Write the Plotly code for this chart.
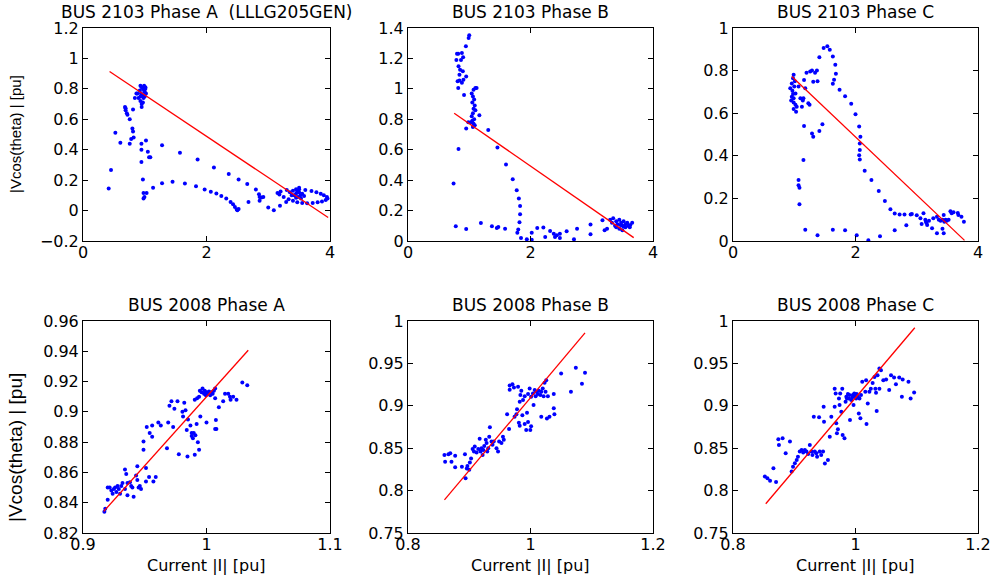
import plotly.graph_objects as go

# ---------------- data ----------------
# Top-left: BUS 2103 Phase A
a1_x = [0.416,0.454,0.524,0.605,0.69,0.69,0.71,0.757,0.8,0.81,0.82,0.78,0.757,0.84,0.865,0.81,0.68,0.72,
        0.93,0.95,0.97,0.92,0.99,1.0,0.94,0.96,1.01,1.02,0.98,0.93,0.95,0.97,0.90,0.88,1.0,0.95,0.93,0.99,1.01,
        0.946,0.946,0.946,0.97,0.98,0.98,0.995,1.03,1.02,1.05,1.07,1.09,1.135,1.28,1.28,1.45,1.57,1.65,1.83,
        1.856,1.97,2.07,2.12,2.16,2.24,2.32,2.36,2.39,2.43,2.46,2.49,2.5,2.52,2.52,2.66,2.68,2.8,2.85,2.86,
        2.86,2.89,2.92,3.0,3.09,3.19,3.29,
        3.2,3.3,3.45,3.6,3.7,3.78,3.85,3.9,3.95,3.96,3.93,3.87,3.8,3.72,3.63,3.55,3.47,3.4,3.33,3.25,3.18,3.15,
        3.35,3.4,3.42,3.45,3.48,3.5,3.5,3.52,3.55,3.38,3.45,3.53,3.58,3.47,3.5]
a1_y = [0.145,0.266,0.512,0.446,0.672,0.66,0.64,0.6,0.54,0.52,0.48,0.47,0.44,0.74,0.77,0.665,0.68,0.63,
        0.82,0.81,0.80,0.79,0.79,0.78,0.77,0.76,0.80,0.77,0.74,0.72,0.70,0.71,0.74,0.77,0.75,0.68,0.75,0.82,0.81,
        0.44,0.40,0.32,0.205,0.116,0.079,0.09,0.116,0.46,0.387,0.35,0.35,0.15,0.18,0.43,0.19,0.38,0.178,0.16,
        0.336,0.138,0.123,0.283,0.112,0.095,0.08,0.24,0.057,0.042,0.024,0.007,0.002,0.204,0.01,0.174,0.057,0.138,0.108,0.09,
        0.064,0.086,0.09,0.02,0.002,0.031,0.057,
        0.125,0.135,0.14,0.135,0.128,0.12,0.11,0.1,0.09,0.08,0.07,0.06,0.055,0.05,0.048,0.05,0.055,0.065,0.075,0.09,0.105,0.115,
        0.12,0.13,0.1,0.11,0.09,0.12,0.14,0.1,0.11,0.1,0.085,0.08,0.095,0.125,0.15]
a1_line_x = [0.43, 3.97]
a1_line_y = [0.914, -0.046]

# Top-middle: BUS 2103 Phase B
b1_x = [0.744,0.78,0.825,0.95,1.19,1.37,1.45,1.475,1.585,1.31,1.46,1.6,1.71,1.775,1.81,1.83,1.83,1.82,1.80,1.785,
        1.845,1.94,2.02,2.02,2.11,2.21,2.24,2.32,2.38,2.40,2.43,2.48,2.48,2.59,2.71,2.76,2.98,2.98,3.175,3.21,
        1.0,0.99,0.945,0.80,0.82,0.88,0.79,0.865,0.9,0.825,0.85,0.895,0.84,0.81,0.84,0.905,0.95,0.88,0.82,0.915,
        1.1,1.12,1.07,1.04,1.06,1.08,1.05,1.09,1.07,1.1,1.06,1.04,1.08,1.05,1.07,1.09,1.06,1.03,1.165,0.985,0.95,
        3.3,3.35,3.4,3.42,3.45,3.48,3.5,3.52,3.55,3.58,3.6,3.63,3.66,3.4,3.45,3.38,3.5,3.55,3.33,3.25,3.62,3.47,3.52]
b1_y = [0.378,0.097,0.604,0.079,0.119,0.097,0.086,0.092,0.081,0.73,0.615,0.503,0.406,0.334,0.28,0.23,0.176,0.123,0.075,0.055,
        0.02,0.011,0.009,0.055,0.086,0.088,0.026,0.066,0.048,0.026,0.037,0.048,0.02,0.064,0.011,0.081,0.108,0.044,0.136,0.07,
        1.352,1.334,1.28,1.23,1.23,1.236,1.19,1.19,1.207,1.148,1.126,1.115,1.093,1.05,1.055,1.06,1.082,1.04,1.005,0.96,
        1.005,1.005,0.994,0.97,0.95,0.93,0.91,0.89,0.87,0.86,0.84,0.82,0.80,0.79,0.77,0.76,0.75,0.78,0.826,0.78,0.74,
        0.14,0.15,0.13,0.11,0.14,0.12,0.1,0.13,0.11,0.12,0.1,0.105,0.12,0.09,0.08,0.1,0.07,0.09,0.12,0.08,0.09,0.105,0.095]
b1_line_x = [0.754, 3.685]
b1_line_y = [0.84, 0.022]

# Top-right: BUS 2103 Phase C
c1_x = [0.99,0.98,0.96,1.0,0.935,0.98,1.02,0.96,0.99,0.99,1.02,0.99,1.04,1.03,0.97,0.95,1.01,
        1.16,1.2,1.29,1.34,1.31,1.18,1.15,1.125,1.25,1.07,1.1,1.14,1.23,1.26,1.37,1.38,
        1.29,1.31,1.41,1.46,1.16,1.15,1.07,1.07,1.085,1.085,
        1.41,1.48,1.54,1.58,1.63,1.67,1.68,1.65,1.63,1.74,1.83,1.93,2.0,2.06,2.08,2.07,2.07,2.06,2.07,
        2.15,2.26,2.38,2.48,2.57,2.64,2.72,2.8,2.9,2.83,3.0,
        2.92,3.06,3.11,3.14,3.15,3.17,3.16,3.08,3.2,3.27,3.33,3.36,3.39,3.42,3.45,3.47,3.49,3.44,3.55,3.57,3.6,
        3.68,3.73,3.77,3.67,3.33,3.44,3.25,3.42,3.52,
        1.18,1.38,1.63,1.83,2.02,2.21,2.4,2.64]
c1_y = [0.78,0.764,0.74,0.725,0.717,0.69,0.693,0.677,0.67,0.65,0.64,0.62,0.63,0.607,0.705,0.66,0.75,
        0.756,0.79,0.8,0.79,0.748,0.717,0.67,0.63,0.64,0.725,0.67,0.66,0.647,0.796,0.8,0.75,
        0.505,0.49,0.517,0.548,0.54,0.38,0.286,0.262,0.25,0.173,
        0.863,0.906,0.914,0.898,0.866,0.827,0.785,0.757,0.738,0.71,0.68,0.644,0.595,0.537,0.49,0.458,0.427,0.403,0.383,
        0.33,0.286,0.235,0.188,0.149,0.129,0.124,0.124,0.124,0.074,0.121,
        0.127,0.107,0.13,0.1,0.09,0.075,0.085,0.08,0.095,0.107,0.114,0.1,0.095,0.1,0.09,0.1,0.095,0.122,0.14,0.13,0.135,
        0.122,0.114,0.09,0.132,0.036,0.036,0.06,0.058,0.1,
        0.053,0.027,0.053,0.05,0.027,0.003,0.022,0.05]
c1_line_x = [0.96, 3.78]
c1_line_y = [0.772, 0.003]

# Bottom-left: BUS 2008 Phase A
a2_x = [0.9173,0.918,0.920,0.9216,0.920,0.923,0.924,0.925,0.926,0.927,0.928,0.929,0.930,0.931,0.932,0.934,0.935,
        0.936,0.936,0.934,0.938,0.939,0.941,0.940,0.943,0.944,0.945,0.946,0.947,0.944,0.949,0.949,0.951,0.951,
        0.9516,0.9535,0.954,0.956,0.956,0.957,0.9589,0.961,0.963,0.968,0.969,0.970,0.9716,0.973,0.974,0.9765,
        0.9776,0.9805,0.981,0.982,0.983,0.984,0.9846,0.985,0.987,0.988,0.988,0.989,0.9897,0.9905,0.9905,0.991,
        0.992,0.9924,0.993,0.994,0.994,0.9946,0.995,0.996,0.9968,0.998,0.9986,0.9995,1.0,1.001,1.002,1.003,
        1.004,1.005,1.006,1.007,1.007,1.0076,1.007,1.008,1.0,1.010,1.0135,1.015,1.0176,1.019,1.0195,1.0216,
        1.0243,1.029,1.033]
a2_y = [0.834,0.836,0.842,0.850,0.850,0.848,0.846,0.849,0.850,0.847,0.851,0.849,0.846,0.851,0.853,0.862,0.859,
        0.853,0.845,0.849,0.8535,0.851,0.844,0.850,0.858,0.864,0.850,0.851,0.849,0.855,0.8805,0.875,0.863,0.854,
        0.890,0.857,0.886,0.891,0.8836,0.854,0.857,0.893,0.891,0.876,0.893,0.904,0.907,0.890,0.902,0.907,
        0.872,0.900,0.897,0.906,0.901,0.888,0.8705,0.895,0.891,0.886,0.884,0.8825,0.886,0.908,0.8716,0.8846,
        0.892,0.909,0.880,0.875,0.910,0.914,0.897,0.913,0.9155,0.912,0.914,0.911,0.913,0.912,0.9135,0.911,
        0.913,0.912,0.914,0.909,0.9155,0.8946,0.8887,0.8887,0.893,0.903,0.907,0.912,0.912,0.910,0.908,0.910,
        0.908,0.9194,0.9176]
a2_line_x = [0.9168, 1.0338]
a2_line_y = [0.8343, 0.9407]

# Bottom-middle: BUS 2008 Phase B
b2_x = [0.8595,0.8606,0.866,0.869,0.871,0.877,0.877,0.888,0.893,0.894,0.896,0.897,0.900,0.901,0.903,0.9055,
        0.9077,0.909,0.912,0.9147,0.917,0.9185,0.920,0.9218,0.923,0.9245,0.927,0.9283,0.9294,0.931,0.9326,
        0.9337,0.9364,0.938,0.940,0.9445,0.947,0.9488,0.9526,0.955,0.9564,0.9618,0.965,0.9705,0.966,0.966,
        0.973,0.974,0.977,0.978,0.9797,0.981,0.9824,0.9824,0.9835,0.985,0.9867,0.9878,0.9905,0.9905,0.993,
        0.9943,0.996,0.996,0.9986,0.9997,1.001,1.001,1.004,1.005,1.0068,1.0084,1.0095,1.012,1.0138,1.016,
        1.0176,1.0176,1.020,1.0214,1.023,1.0246,1.0257,1.0268,1.0284,1.031,1.038,1.038,1.039,1.050,1.066,
        1.074,1.084,1.089]
b2_y = [0.842,0.834,0.843,0.844,0.834,0.841,0.8276,0.828,0.843,0.8147,0.826,0.829,0.8245,0.833,0.838,0.849,
        0.846,0.852,0.845,0.849,0.861,0.846,0.850,0.842,0.848,0.8527,0.860,0.856,0.846,0.850,0.8636,
        0.8746,0.858,0.854,0.858,0.850,0.846,0.858,0.856,0.8636,0.860,0.890,0.8727,0.9255,0.924,0.919,
        0.9216,0.887,0.890,0.8958,0.9224,0.880,0.9048,0.8766,0.9126,0.9177,0.889,0.9067,0.9114,0.8785,0.8715,
        0.8918,0.881,0.9138,0.9205,0.8715,0.876,0.9107,0.9146,0.9009,0.9185,0.9114,0.9165,0.9138,0.9177,0.9126,
        0.887,0.9165,0.9205,0.9114,0.9271,0.9165,0.930,0.885,0.9114,0.887,0.9138,0.897,0.890,0.938,0.9165,
        0.945,0.926,0.939]
b2_line_x = [0.8595, 1.089]
b2_line_y = [0.789, 0.986]

# Bottom-right: BUS 2008 Phase C
c2_x = [0.852,0.8562,0.8605,0.866,0.8703,0.874,0.875,0.881,0.886,0.893,0.8957,0.898,0.901,0.904,0.906,0.909,
        0.912,0.9146,0.9173,0.920,0.9227,0.9254,0.928,0.9297,0.9319,0.9335,0.936,0.9373,0.9405,0.9416,0.944,
        0.947,0.948,0.9486,0.950,0.955,0.958,0.9605,0.966,0.966,0.9676,0.9686,0.9697,0.9713,0.973,0.974,0.975,
        0.9768,0.9784,0.979,0.982,0.9838,0.985,0.986,0.9876,0.989,0.990,0.991,0.993,0.9946,0.9957,0.9968,
        0.998,1.000,1.001,1.002,1.0038,1.0054,1.0065,1.008,1.009,1.011,1.016,1.0173,1.018,1.020,1.0227,1.025,
        1.028,1.031,1.0324,1.0335,1.0346,1.036,1.039,1.039,1.0416,1.0454,1.050,1.055,1.058,1.063,1.066,
        1.0714,1.0757,1.077,1.0865,1.090,1.0957]
c2_y = [0.8166,0.8147,0.8115,0.8264,0.810,0.8605,0.8538,0.8617,0.844,0.8578,0.8225,0.828,0.8323,0.836,0.840,0.846,
        0.848,0.845,0.848,0.846,0.8433,0.8538,0.846,0.842,0.8871,0.846,0.844,0.840,0.8864,0.846,0.842,
        0.846,0.899,0.8813,0.832,0.836,0.8636,0.8871,0.920,0.899,0.9146,0.8793,0.8676,0.8723,0.9087,0.9009,0.9146,
        0.893,0.920,0.8656,0.8617,0.9048,0.9107,0.9087,0.9138,0.9087,0.9126,0.8832,0.9067,0.9099,0.9126,0.9009,
        0.9146,0.9114,0.9087,0.9138,0.9107,0.891,0.9087,0.8852,0.9126,0.9283,0.9165,0.930,0.8785,0.9028,0.9165,0.920,
        0.927,0.934,0.920,0.9154,0.8938,0.936,0.944,0.920,0.942,0.930,0.931,0.9185,0.936,0.9334,0.9255,
        0.9334,0.9107,0.931,0.9283,0.9087,0.9158]
c2_line_x = [0.8535, 1.0968]
c2_line_y = [0.7845, 0.992]

titles = ["BUS 2103 Phase A\u00a0\u00a0(LLLG205GEN)", "BUS 2103 Phase B", "BUS 2103 Phase C",
          "BUS 2008 Phase A", "BUS 2008 Phase B", "BUS 2008 Phase C"]
y_label = "|Vcos(theta) | [pu]"
x_label = "Current |I| [pu]"

# tick values / labels
xt_top = [0, 2, 4]
xt_top_txt = ["0", "2", "4"]
yt_a1 = [-0.2, 0, 0.2, 0.4, 0.6, 0.8, 1.0, 1.2]
yt_a1_txt = ["\u22120.2", "0", "0.2", "0.4", "0.6", "0.8", "1", "1.2"]
yt_b1 = [0, 0.2, 0.4, 0.6, 0.8, 1.0, 1.2, 1.4]
yt_b1_txt = ["0", "0.2", "0.4", "0.6", "0.8", "1", "1.2", "1.4"]
yt_c1 = [0, 0.2, 0.4, 0.6, 0.8, 1.0]
yt_c1_txt = ["0", "0.2", "0.4", "0.6", "0.8", "1"]
xt_a2 = [0.9, 1.0, 1.1]
xt_a2_txt = ["0.9", "1", "1.1"]
yt_a2 = [0.82, 0.84, 0.86, 0.88, 0.90, 0.92, 0.94, 0.96]
yt_a2_txt = ["0.82", "0.84", "0.86", "0.88", "0.9", "0.92", "0.94", "0.96"]
xt_bc2 = [0.8, 1.0, 1.2]
xt_bc2_txt = ["0.8", "1", "1.2"]
yt_bc2 = [0.75, 0.8, 0.85, 0.9, 0.95, 1.0]
yt_bc2_txt = ["0.75", "0.8", "0.85", "0.9", "0.95", "1"]

panels = [
    (a1_x, a1_y, a1_line_x, a1_line_y, [0, 4], [-0.2, 1.2], xt_top, xt_top_txt, yt_a1, yt_a1_txt),
    (b1_x, b1_y, b1_line_x, b1_line_y, [0, 4], [0, 1.4], xt_top, xt_top_txt, yt_b1, yt_b1_txt),
    (c1_x, c1_y, c1_line_x, c1_line_y, [0, 4], [0, 1.0], xt_top, xt_top_txt, yt_c1, yt_c1_txt),
    (a2_x, a2_y, a2_line_x, a2_line_y, [0.9, 1.1], [0.82, 0.96], xt_a2, xt_a2_txt, yt_a2, yt_a2_txt),
    (b2_x, b2_y, b2_line_x, b2_line_y, [0.8, 1.2], [0.75, 1.0], xt_bc2, xt_bc2_txt, yt_bc2, yt_bc2_txt),
    (c2_x, c2_y, c2_line_x, c2_line_y, [0.8, 1.2], [0.75, 1.0], xt_bc2, xt_bc2_txt, yt_bc2, yt_bc2_txt),
]

W, H = 995, 578
col_px = [(83, 330), (408, 653), (733, 978)]
row_px = [(28, 241), (321, 533)]

fig = go.Figure()
layout = {}
annotations = []
FONT = "DejaVu Sans"
for i, (px, py, lx, ly, xr, yr, xtv, xtt, ytv, ytt) in enumerate(panels):
    r, c = divmod(i, 3)
    n = i + 1
    xa = "x" if n == 1 else f"x{n}"
    ya = "y" if n == 1 else f"y{n}"
    fig.add_trace(go.Scatter(x=px, y=py, mode="markers", xaxis=xa, yaxis=ya,
                             marker=dict(color="#0000ff", size=4, line=dict(width=0)),
                             hoverinfo="x+y"))
    fig.add_trace(go.Scatter(x=lx, y=ly, mode="lines", xaxis=xa, yaxis=ya,
                             line=dict(color="#ff0000", width=1.3)))
    x0, x1 = col_px[c]
    y0, y1 = row_px[r]
    common = dict(showline=True, linecolor="black", linewidth=1, mirror="ticks",
                  ticks="inside", ticklen=5, tickcolor="black", showgrid=False,
                  zeroline=False, automargin=False,
                  tickfont=dict(family=FONT, size=16, color="black"))
    layout["xaxis" if n == 1 else f"xaxis{n}"] = dict(
        domain=[x0 / W, x1 / W], range=xr, tickvals=xtv, ticktext=xtt,
        anchor=ya, ticklabelstandoff=-3, **common)
    layout["yaxis" if n == 1 else f"yaxis{n}"] = dict(
        domain=[1 - y1 / H, 1 - y0 / H], range=yr, tickvals=ytv, ticktext=ytt,
        anchor=xa, **common)
    annotations.append(dict(text=titles[i], xref="paper", yref="paper",
                            x=(x0 + x1) / 2 / W, y=1 - (y0 - 16) / H,
                            xanchor="center", yanchor="middle", showarrow=False,
                            font=dict(family=FONT, size=17, color="black")))

# y labels
annotations.append(dict(text=y_label, xref="paper", yref="paper", x=15 / W,
                        y=1 - 134 / H, xanchor="center", yanchor="middle",
                        textangle=-90, showarrow=False,
                        font=dict(family="Liberation Sans", size=15, color="black")))
annotations.append(dict(text=y_label, xref="paper", yref="paper", x=15 / W,
                        y=1 - 448 / H, xanchor="center", yanchor="middle",
                        textangle=-90, showarrow=False,
                        font=dict(family="Liberation Sans", size=19, color="black")))
# x labels
for c in range(3):
    x0, x1 = col_px[c]
    annotations.append(dict(text=x_label, xref="paper", yref="paper",
                            x=(x0 + x1) / 2 / W, y=1 - 565 / H,
                            xanchor="center", yanchor="middle", showarrow=False,
                            font=dict(family=FONT, size=16, color="black")))

fig.update_layout(width=W, height=H, margin=dict(l=0, r=0, t=0, b=0, autoexpand=False),
                  paper_bgcolor="white", plot_bgcolor="white", showlegend=False,
                  annotations=annotations, **layout)

fig.write_html("out.html", config={"displayModeBar": False},
               post_script="document.body.style.margin='0px';document.body.style.overflow='hidden';")
